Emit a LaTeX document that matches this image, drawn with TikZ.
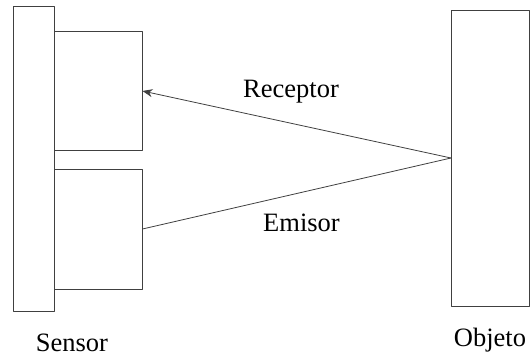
\documentclass[tikz,border=0pt]{standalone}
\usepackage{fontspec}
\setmainfont{Liberation Serif}
\usetikzlibrary{arrows.meta}
\begin{document}
\begin{tikzpicture}[x=1pt,y=-1pt,>={Stealth[length=10pt,width=8pt]}, line join=round, line cap=round,
	caja/.style={draw=black!75, line width=0.8pt, inner sep=0pt, outer sep=0pt},
	rayo/.style={draw=black!75, line width=0.8pt},
	etiqueta/.style={font=\fontsize{26.5}{30}\selectfont, anchor=base, inner sep=0pt}]
	\useasboundingbox (0,0) rectangle (530,358);
	\node[caja, minimum width=41pt, minimum height=305pt] (base) at (33.5,158.5) {};
	\node[caja, minimum width=88.5pt, minimum height=119pt] (receptor) at (98.25,91) {};
	\node[caja, minimum width=88.5pt, minimum height=120pt] (emisor) at (98.25,229) {};
	\node[caja, minimum width=78pt, minimum height=296pt] (objeto) at (490,158) {};
	\draw[rayo,->] (objeto.west) -- (receptor.east);
	\draw[rayo] (objeto.west) -- (emisor.east);
	\node[etiqueta] (lreceptor) at (291,98) {Receptor};
	\node[etiqueta] (lemisor) at (301.5,231.5) {Emisor};
	\node[etiqueta] (lsensor) at (72,351.5) {Sensor};
	\node[etiqueta] (lobjeto) at (490,346.5) {Objeto};
\end{tikzpicture}
\end{document}
